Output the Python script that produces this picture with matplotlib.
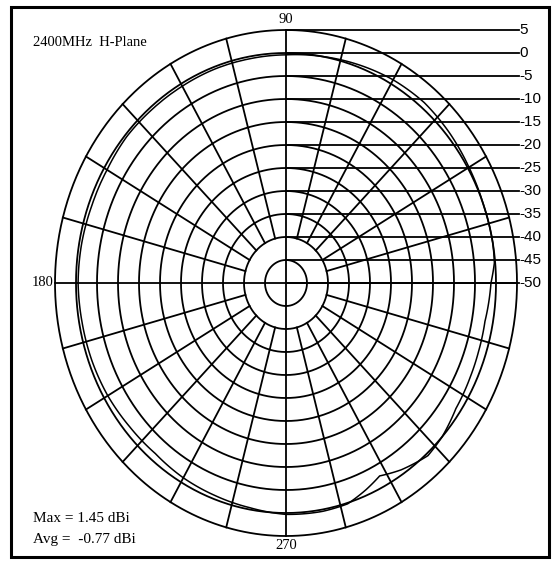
import numpy as np
import matplotlib
matplotlib.use('Agg')
from matplotlib import pyplot as plt
from matplotlib.patches import Rectangle

# Messwerte (Winkel in Grad, Gewinn in dBi) - aus dem Bild geschaetzt
angles = [0, 5, 10, 20, 30, 40, 50, 60, 70, 80, 90, 100, 110, 120, 130, 140, 150,
          160, 170, 180, 190, 200, 210, 220, 230, 240, 250, 260, 270, 280, 287,
          293, 298, 304, 312, 318, 326, 335, 342, 350, 360]
gain = [-1.2, -0.2, 0.0, 0.0, 0.3, 0.8, 1.2, 1.0, 0.5, 0.0, -0.4, -0.5, -0.5, -0.6,
        -0.6, -0.5, -0.8, -0.8, -0.6, -0.5, -0.7, -0.8, -1.0, -1.4, -1.6, -1.1,
        -0.8, -0.4, 0.3, 0.4, 0.2, -1.2, -2.5, -1.0, 0.5, 0.0, -1.2, -1.6, -1.8,
        -1.9, -1.2]

ring_levels = [5, 0, -5, -10, -15, -20, -25, -30, -35, -40, -45]
ring_labels = ['5', '0', '-5', '-10', '-15', '-20', '-25', '-30', '-35', '-40', '-45', '-50']
spoke_angles = np.arange(0, 360, 15)
axis_labels = {90: '90', 180: '180', 270: '270'}
title = '2400MHz  H-Plane'
max_text = 'Max = 1.45 dBi'
avg_text = 'Avg =  -0.77 dBi'

rmin, rmax = -50, 5
W, H = 553, 561

plt.rcParams['font.family'] = ['Liberation Serif', 'DejaVu Serif']
fig = plt.figure(figsize=(W / 100, H / 100), dpi=100)

# Polarachse, gestreckt wie im Scan (Ellipse)
cx, cy, rx, ry = 286, 283, 231, 253
ax = fig.add_axes([(cx - rx) / W, (H - cy - ry) / H, 2 * rx / W, 2 * ry / H],
                  projection='polar')
ax.set_aspect('auto')
ax.set_ylim(rmin, rmax)
ax.grid(False)
ax.set_xticks([])
ax.set_yticks([])
ax.spines['polar'].set_visible(False)
ax.patch.set_alpha(0)

lw = 1.3
th = np.linspace(0, 2 * np.pi, 721)
for lev in ring_levels:
    ax.plot(th, np.full_like(th, lev), color='black', lw=lw, clip_on=False)

for a in spoke_angles:
    t = np.deg2rad(a)
    start = rmin if a % 90 == 0 else -40
    ax.plot([t, t], [start, rmax], color='black', lw=lw, clip_on=False)

# Messkurve (Boegen zwischen den Punkten)
ta = np.deg2rad(np.array(angles, dtype=float))
curve, = ax.plot(ta, gain, color='black', lw=1.1, clip_on=False)
curve.get_path()._interpolation_steps = 20

# Rahmen und Beschriftung in Pixelkoordinaten
ov = fig.add_axes([0, 0, 1, 1])
ov.set_xlim(0, W)
ov.set_ylim(H, 0)
ov.axis('off')
ov.patch.set_alpha(0)
ov.add_patch(Rectangle((11, 7), 538, 550, fill=False, edgecolor='black', lw=2.2))

# Hinweislinien von der Oberkante jedes Rings nach rechts
to_px = lambda t, r: ov.transData.inverted().transform(ax.transData.transform((t, r)))
for lev, lab in zip(ring_levels + [rmin], ring_labels):
    x0, y0 = to_px(np.pi / 2, lev)
    ov.plot([x0, 519], [y0, y0], color='black', lw=lw)
    ov.text(519, y0, lab, ha='left', va='center', fontsize=11,
            family=['Liberation Sans', 'DejaVu Sans'])

xt, yt = to_px(np.pi / 2, rmax)
ov.text(xt, yt - 4, axis_labels[90], ha='center', va='bottom', fontsize=10.5)
xl, yl = to_px(np.pi, rmax)
ov.text(xl - 1, yl, axis_labels[180], ha='right', va='center', fontsize=10.5)
xb, yb = to_px(3 * np.pi / 2, rmax)
ov.text(xb, yb + 3, axis_labels[270], ha='center', va='top', fontsize=10.5)

ov.text(33, 42, title, ha='left', va='center', fontsize=10.5)
ov.text(33, 518, max_text, ha='left', va='center', fontsize=11)
ov.text(33, 540, avg_text, ha='left', va='center', fontsize=11)

fig.savefig('out.png', dpi=100)
